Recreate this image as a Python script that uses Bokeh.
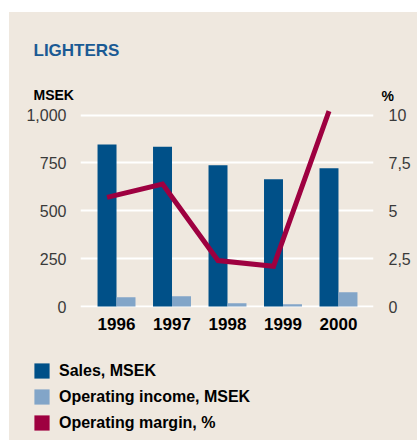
from bokeh.plotting import figure
from bokeh.models import (Range1d, LinearAxis, FixedTicker, NumeralTickFormatter, Label,
                          Legend, LegendItem, ColumnDataSource, Spacer)
from bokeh.layouts import column, row
from bokeh.transform import dodge
from bokeh.embed import file_html
from bokeh.resources import INLINE

# ---- data ----
years = ["1996", "1997", "1998", "1999", "2000"]
sales = [846, 835, 738, 665, 722]
op_income = [49, 54, 17, 12, 75]
op_margin = [5.7, 6.4, 2.4, 2.1, 10.2]
left_ticks = [0, 250, 500, 750, 1000]
right_ticks = [0, 2.5, 5, 7.5, 10]
right_tick_labels = ["0", "2,5", "5", "7,5", "10"]
series_names = ["Sales, MSEK", "Operating income, MSEK", "Operating margin, %"]

# ---- style ----
BG = "#efe8df"
SALES_C = "#005088"
OI_C = "#82a5c8"
MARGIN_C = "#9e0040"
TITLE_C = "#1a5a94"
FONT = "Liberation Sans"
W = 408


def blank(h):
    f = figure(width=W, height=h, output_backend="svg", toolbar_location=None,
               x_range=Range1d(0, W), y_range=Range1d(0, h),
               x_axis_type=None, y_axis_type=None,
               min_border_left=0, min_border_right=0, min_border_top=0,
               min_border_bottom=0, frame_align=False)
    f.grid.visible = False
    f.background_fill_color = BG
    f.border_fill_color = BG
    f.outline_line_color = None
    return f


# ---- header ----
hdr = blank(92)
hdr.add_layout(Label(x=24, y=54, text="LIGHTERS", text_font=FONT,
                     text_font_style="bold", text_font_size="17px",
                     text_color=TITLE_C, text_baseline="alphabetic"))
hdr.add_layout(Label(x=24, y=10, text="MSEK", text_font=FONT,
                     text_font_style="bold", text_font_size="14px",
                     text_color="black", text_baseline="alphabetic"))
hdr.add_layout(Label(x=372, y=9, text="%", text_font=FONT,
                     text_font_style="bold", text_font_size="14px",
                     text_color="black", text_baseline="alphabetic"))

# ---- main chart ----
src = ColumnDataSource(dict(idx=list(range(len(years))), sales=sales,
                            oi=op_income, margin=op_margin))

p = figure(width=W, height=236, output_backend="svg", toolbar_location=None,
           x_range=Range1d(-0.649, 4.631), y_range=Range1d(-5, 1055),
           min_border_left=71, min_border_right=44, min_border_top=0,
           min_border_bottom=33, frame_align=False)
p.extra_y_ranges = {"pct": Range1d(-0.05, 10.55)}
p.background_fill_color = BG
p.border_fill_color = BG
p.outline_line_color = None

bw = 0.342
p.vbar(x=dodge("idx", -bw / 2), top="sales", width=bw, bottom=0,
       source=src, fill_color=SALES_C, line_color=None)
p.vbar(x=dodge("idx", bw / 2), top="oi", width=bw, bottom=0,
       source=src, fill_color=OI_C, line_color=None)
p.line(x=dodge("idx", -bw / 2), y="margin", source=src, y_range_name="pct",
       line_color=MARGIN_C, line_width=5, line_join="miter")

p.xgrid.visible = False
p.ygrid.ticker = FixedTicker(ticks=left_ticks)
p.ygrid.grid_line_color = "white"
p.ygrid.grid_line_width = 2

for ax in (p.xaxis[0], p.yaxis[0]):
    ax.axis_line_color = None
    ax.major_tick_line_color = None
    ax.minor_tick_line_color = None

p.xaxis.ticker = FixedTicker(ticks=list(range(len(years))))
p.xaxis.major_label_overrides = {i: y for i, y in enumerate(years)}
p.xaxis.major_label_text_font = FONT
p.xaxis.major_label_text_font_style = "bold"
p.xaxis.major_label_text_font_size = "17px"
p.xaxis.major_label_text_color = "black"
p.xaxis.major_label_standoff = 4

p.yaxis.ticker = FixedTicker(ticks=left_ticks)
p.yaxis.formatter = NumeralTickFormatter(format="0,0")
p.yaxis.major_label_text_font = FONT
p.yaxis.major_label_text_font_size = "16px"
p.yaxis.major_label_text_color = "#3a3a3a"
p.yaxis.major_label_standoff = 8

ra = LinearAxis(y_range_name="pct")
ra.ticker = FixedTicker(ticks=right_ticks)
ra.major_label_overrides = {t: l for t, l in zip(right_ticks, right_tick_labels)}
ra.axis_line_color = None
ra.major_tick_line_color = None
ra.minor_tick_line_color = None
ra.major_label_text_font = FONT
ra.major_label_text_font_size = "16px"
ra.major_label_text_color = "#3a3a3a"
ra.major_label_standoff = 9
p.add_layout(ra, "right")

# ---- legend (proxy glyphs of zero size, only used for the legend swatches) ----
ftr = blank(100)
rs = [ftr.vbar(x=[0], top=[0], bottom=0, width=0, fill_color=c, line_color=None)
      for c in (SALES_C, OI_C, MARGIN_C)]
legend = Legend(items=[LegendItem(label=n, renderers=[r]) for n, r in zip(series_names, rs)],
                location=(23, 8), orientation="vertical",
                glyph_width=19, glyph_height=19, label_height=19, spacing=7,
                label_standoff=8, padding=0, margin=0,
                border_line_color=None, background_fill_alpha=0,
                label_text_font=FONT, label_text_font_style="bold",
                label_text_font_size="16px", label_text_color="black")
ftr.add_layout(legend)

panel = column(hdr, p, ftr, styles={"background-color": BG})
layout = row(Spacer(width=9), column(Spacer(height=12), panel))
open("out.html", "w").write(file_html(layout, INLINE))
